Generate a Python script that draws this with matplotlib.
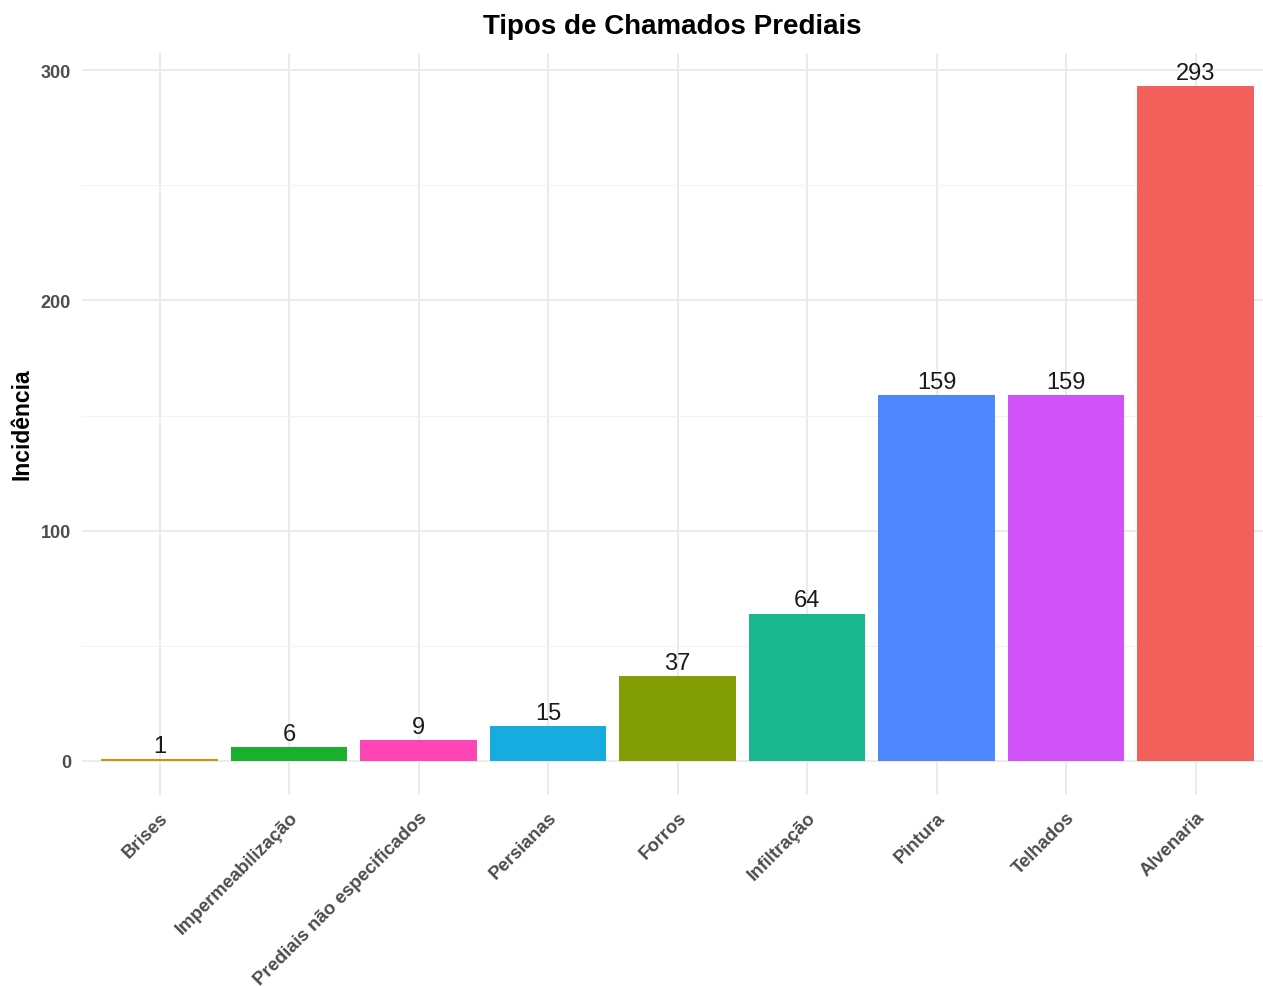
import matplotlib.pyplot as plt
import numpy as np

plt.rcParams["font.family"] = ["Liberation Sans", "DejaVu Sans"]

categories = ["Brises", "Impermeabilização", "Prediais não especificados", "Persianas",
              "Forros", "Infiltração", "Pintura", "Telhados", "Alvenaria"]
counts = [1, 6, 9, 15, 37, 64, 159, 159, 293]
colors = ["#D89000", "#1AAF2F", "#FF45B5", "#17ACDF", "#829D06",
          "#19B78D", "#4F87FF", "#D052F9", "#F2605B"]
y_ticks = [0, 100, 200, 300]

fig = plt.figure(figsize=(12.63, 9.87), dpi=100)
ax = fig.add_axes([82 / 1263, 1 - 795.7 / 987, (1263 - 82) / 1263, (795.7 - 53.5) / 987])

x = np.arange(1, len(categories) + 1)
ax.bar(x, counts, width=0.9, color=colors, zorder=3)
for xi, v in zip(x, counts):
    ax.annotate(str(v), (xi, v), xytext=(0, 1.5), textcoords="offset points",
                ha="center", va="bottom", fontsize=17, color="#1a1a1a", zorder=4)

top = max(counts)
ax.set_ylim(-0.05 * top, top * 1.05)
ax.set_xlim(0.4, 0.4 + (1263 - 82) / 129.5)

ax.set_yticks(y_ticks)
ax.set_yticks([50, 150, 250], minor=True)
ax.set_xticks(x)
ax.set_xticklabels(categories, rotation=45, ha="right", va="top", rotation_mode="anchor",
                   fontsize=13.3, fontweight="bold", color="#4D4D4D")
for lbl in ax.get_yticklabels():
    lbl.set_fontsize(13)
    lbl.set_fontweight("bold")
    lbl.set_color("#4D4D4D")

ax.tick_params(axis="both", which="both", length=0)
ax.tick_params(axis="x", pad=10)
ax.tick_params(axis="y", pad=8)
ax.grid(which="major", color="#EBEBEB", linewidth=1.4, zorder=0)
ax.grid(which="minor", axis="y", color="#F2F2F2", linewidth=0.8, zorder=0)
for side in ax.spines.values():
    side.set_visible(False)

ax.set_ylabel("Incidência", fontsize=16.5, fontweight="bold", labelpad=5)
ax.set_title("Tipos de Chamados Prediais", fontsize=20, fontweight="bold", pad=14)

fig.savefig("out.png", dpi=100)
